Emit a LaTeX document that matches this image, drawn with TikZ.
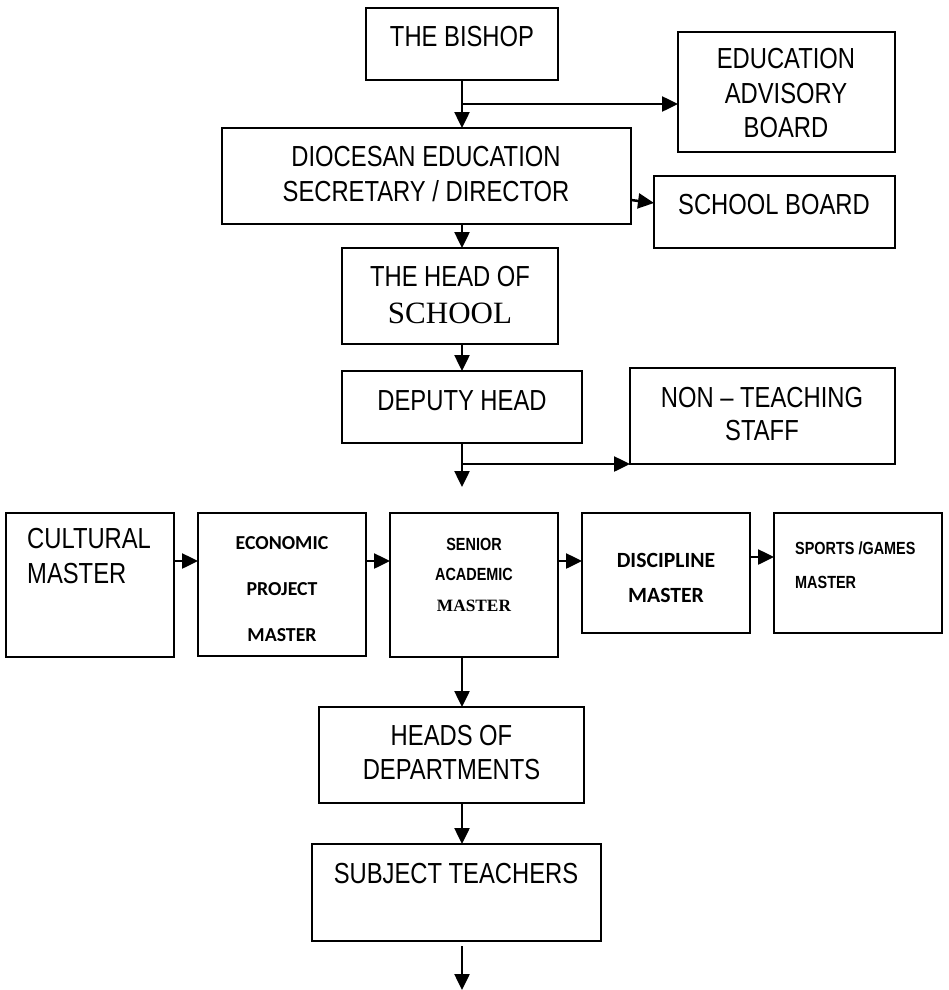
\documentclass[tikz,border=0pt]{standalone}
\usepackage{fontspec}
\newfontfamily\narrowf[FakeStretch=0.82]{Liberation Sans}
\newfontfamily\timesf{Liberation Serif}
\newfontfamily\calibf{Carlito}
\usetikzlibrary{arrows.meta}
\tikzset{
  box/.style={draw=black, line width=2pt, inner sep=0pt, outer sep=0pt},
  conn/.style={line width=2.5pt, -{Triangle[length=16pt,width=15pt]}},
  big/.style={font=\narrowf\fontsize{29}{35}\selectfont, anchor=base, inner sep=0pt},
  bigl/.style={big, anchor=base west},
  serifbig/.style={font=\timesf\fontsize{31}{36}\selectfont, anchor=base, inner sep=0pt},
  calb/.style={font=\calibf\bfseries\fontsize{19.8}{24}\selectfont, anchor=base, inner sep=0pt},
  calbb/.style={font=\calibf\bfseries\fontsize{21.7}{26}\selectfont, anchor=base, inner sep=0pt},
  nb/.style={font=\narrowf\bfseries\fontsize{17.6}{21}\selectfont, anchor=base, inner sep=0pt},
  nbl/.style={nb, anchor=base west},
  tb/.style={font=\timesf\bfseries\fontsize{17.3}{21}\selectfont, anchor=base, inner sep=0pt},
}
\begin{document}
\begin{tikzpicture}[x=1pt,y=-1pt]
\useasboundingbox (0,0) rectangle (948,990);
% boxes
\node[box, minimum width=192pt, minimum height=72pt] (bishop) at (462,44) {};
\node[box, minimum width=217pt, minimum height=120pt] (eab) at (786.5,92) {};
\node[box, minimum width=409pt, minimum height=96pt] (dioc) at (426.5,176) {};
\node[box, minimum width=241pt, minimum height=72pt] (school) at (774.5,212) {};
\node[box, minimum width=216pt, minimum height=96pt] (head) at (450,296) {};
\node[box, minimum width=240pt, minimum height=72pt] (deputy) at (462,407) {};
\node[box, minimum width=265pt, minimum height=96pt] (nonteach) at (762.5,416) {};
\node[box, minimum width=168pt, minimum height=144pt] (cultural) at (90,585) {};
\node[box, minimum width=168pt, minimum height=143pt] (economic) at (282,584.5) {};
\node[box, minimum width=168pt, minimum height=144pt] (senior) at (474,585) {};
\node[box, minimum width=168pt, minimum height=120pt] (discipline) at (666,573) {};
\node[box, minimum width=168pt, minimum height=120pt] (sports) at (858,573) {};
\node[box, minimum width=265pt, minimum height=96pt] (heads) at (451.5,755) {};
\node[box, minimum width=289pt, minimum height=97pt] (subject) at (456.5,892.5) {};
% texts
\node[big] (tbishop) at (462,47) {THE BISHOP};
\node[big] (teab1) at (786,69) {EDUCATION};
\node[big] (teab2) at (786,103) {ADVISORY};
\node[big] (teab3) at (786,137) {BOARD};
\node[big] (tdioc1) at (426,166) {DIOCESAN EDUCATION};
\node[big] (tdioc2) at (426,201) {SECRETARY / DIRECTOR};
\node[big] (tschool) at (774,214) {SCHOOL BOARD};
\node[big] (thead1) at (450,286) {THE HEAD OF};
\node[serifbig] (thead2) at (450,323) {SCHOOL};
\node[big] (tdeputy) at (462,410) {DEPUTY HEAD};
\node[big] (tnon1) at (762,407) {NON – TEACHING};
\node[big] (tnon2) at (762,440) {STAFF};
\node[bigl] (tcult1) at (27,548) {CULTURAL};
\node[bigl] (tcult2) at (27,583) {MASTER};
\node[calb] (tecon1) at (282,549) {ECONOMIC};
\node[calb] (tecon2) at (282,595) {PROJECT};
\node[calb] (tecon3) at (282,641) {MASTER};
\node[nb] (tsen1) at (474,550) {SENIOR};
\node[nb] (tsen2) at (474,580) {ACADEMIC};
\node[tb] (tsen3) at (474,611) {MASTER};
\node[calbb] (tdisc1) at (666,567) {DISCIPLINE};
\node[calbb] (tdisc2) at (666,602) {MASTER};
\node[nbl] (tsport1) at (795,554) {SPORTS /GAMES};
\node[nbl] (tsport2) at (795,588) {MASTER};
\node[big] (theads1) at (451.5,745) {HEADS OF};
\node[big] (theads2) at (451.5,779) {DEPARTMENTS};
\node[big] (tsubj) at (456,883) {SUBJECT TEACHERS};
% coordinates
\coordinate (b1) at (462,104);
\coordinate (d1) at (462,464);
\coordinate (dend) at (462,487);
\coordinate (send) at (462,990);
% connectors
\draw[conn] (bishop.south) -- (bishop.south |- dioc.north);
\draw[conn] (b1) -- (b1 -| eab.west);
\draw[conn] ([yshift=-24pt]dioc.east) -- ([yshift=9pt]school.west);
\draw[conn] (dioc.south -| bishop.south) -- (head.north -| bishop.south);
\draw[conn] (head.south -| bishop.south) -- (deputy.north);
\draw[conn] (deputy.south) -- (dend);
\draw[conn] (d1) -- (d1 -| nonteach.west);
\draw[conn] ([yshift=24pt]cultural.east) -- ([yshift=23.5pt]economic.west);
\draw[conn] ([yshift=23.5pt]economic.east) -- ([yshift=24pt]senior.west);
\draw[conn] ([yshift=24pt]senior.east) -- ([yshift=12pt]discipline.west);
\draw[conn] ([yshift=16pt]discipline.east) -- ([yshift=16pt]sports.west);
\draw[conn] (senior.south -| bishop.south) -- (heads.north -| bishop.south);
\draw[conn] (heads.south -| bishop.south) -- (subject.north -| bishop.south);
\draw[conn, shorten <=5pt] (subject.south -| bishop.south) -- (send);
\end{tikzpicture}
\end{document}
